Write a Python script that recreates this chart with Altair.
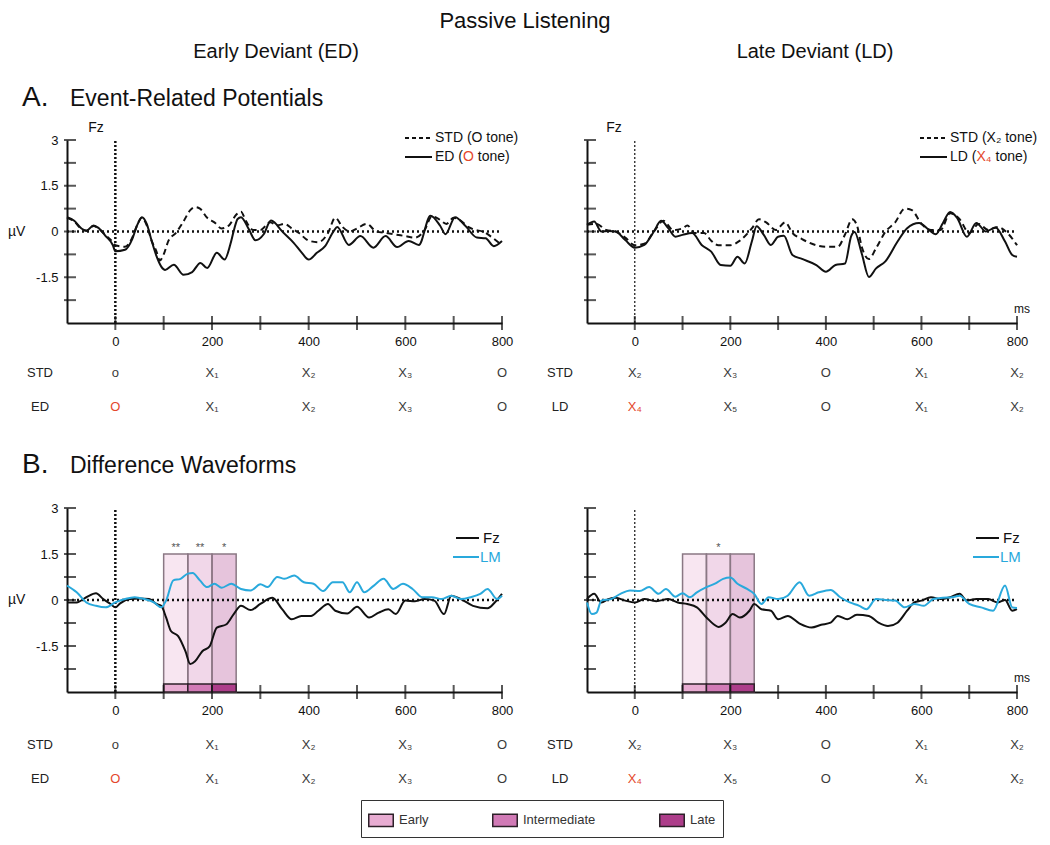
import altair as alt
import pandas as pd

FONT = "Liberation Sans"

# ---------------- data ----------------
tone_times = [0, 200, 400, 600, 800]
ed_std_tones = ["o", "X₁", "X₂", "X₃", "O"]
ed_dev_tones = ["O", "X₁", "X₂", "X₃", "O"]
ld_std_tones = ["X₂", "X₃", "O", "X₁", "X₂"]
ld_dev_tones = ["X₄", "X₅", "O", "X₁", "X₂"]

windows = ["Early", "Intermediate", "Late"]
win_start = [100, 150, 200]
win_end = [150, 200, 250]
win_colors = ["#e8acd2", "#d17ab6", "#ad3d8a"]
sig_ed = ["**", "**", "*"]
sig_ld = ["", "*", ""]

x_tick_labels = [0, 200, 400, 600, 800]
y_tick_labels = [3, 1.5, 0, -1.5]
x_ticks = [0, 100, 200, 300, 400, 500, 600, 700, 800]
y_ticks = [3, 2.25, 1.5, 0.75, 0, -0.75, -1.5, -2.25]

# A. ERPs, Early Deviant block (time ms, uV)
erp_ed_dev = [(-100,0.47),(-85,0.35),(-70,0.1),(-60,0.02),(-45,0.2),(-35,0.12),(-20,-0.15),(-5,-0.45),(0,-0.65),(20,-0.6),(35,-0.25),(45,0.2),(55,0.47),(65,0.25),(75,-0.3),(85,-0.8),(95,-1.15),(103,-1.26),(121,-1.09),(141,-1.42),(159,-1.33),(176,-1.03),(190,-1.2),(210,-0.7),(226,-0.92),(238,-0.42),(245,0.02),(253,0.41),(260,0.47),(276,0.08),(290,-0.29),(307,-0.09),(322,0.36),(334,0.22),(341,0.08),(369,-0.37),(386,-0.7),(400,-0.92),(417,-0.7),(434,-0.48),(452,0.02),(459,0.15),(483,-0.44),(507,-0.15),(534,-0.53),(559,-0.15),(583,-0.51),(607,-0.31),(628,-0.44),(652,0.52),(672,0.19),(683,-0.09),(703,0.47),(724,0.19),(748,-0.2),(766,-0.22),(783,-0.48),(800,-0.31)]
erp_ed_std = [(-100,0.45),(-85,0.33),(-70,0.08),(-60,0.03),(-45,0.18),(-35,0.1),(-20,-0.12),(-5,-0.35),(0,-0.45),(20,-0.5),(35,-0.2),(45,0.2),(55,0.45),(65,0.2),(75,-0.3),(85,-0.65),(92,-0.95),(100,-0.75),(110,-0.3),(125,-0.05),(140,0.3),(155,0.7),(165,0.8),(175,0.75),(190,0.45),(205,0.3),(220,0.1),(235,0.2),(250,0.55),(260,0.65),(270,0.35),(285,0.05),(300,0.05),(320,0.3),(335,0.2),(350,0.25),(365,0.1),(380,-0.05),(400,-0.3),(420,-0.35),(440,-0.05),(455,0.45),(470,0.15),(485,0.0),(500,0.1),(520,0.25),(540,0.0),(560,-0.05),(580,-0.1),(600,-0.15),(620,-0.2),(640,0.05),(655,0.5),(670,0.4),(685,0.25),(700,0.45),(715,0.35),(730,0.15),(745,0.05),(760,0.0),(780,-0.2),(800,-0.45)]

# A. ERPs, Late Deviant block
erp_ld_dev = [(-100,0.22),(-85,0.33),(-70,0.0),(-55,0.02),(-40,0.0),(-20,-0.28),(0,-0.53),(20,-0.44),(40,0.0),(55,0.35),(70,0.11),(85,-0.17),(100,-0.11),(120,-0.05),(140,-0.44),(160,-0.66),(180,-1.1),(200,-1.12),(215,-0.83),(230,-1.05),(245,-0.33),(255,0.17),(270,-0.11),(285,-0.44),(300,-0.17),(312,-0.14),(330,-0.77),(350,-0.9),(380,-1.1),(400,-1.32),(420,-1.1),(440,-1.05),(453,-0.15),(460,-0.02),(475,-0.72),(490,-1.49),(505,-1.21),(525,-0.97),(550,-0.33),(570,0.11),(595,0.28),(615,0.06),(630,-0.09),(645,0.28),(660,0.64),(675,0.44),(695,-0.17),(715,0.28),(735,0.0),(755,0.13),(775,-0.33),(790,-0.77),(800,-0.83)]
erp_ld_std = [(-100,0.22),(-80,0.25),(-60,0.05),(-40,0.0),(-20,-0.2),(0,-0.45),(20,-0.4),(40,0.0),(60,0.35),(80,0.05),(100,0.1),(110,0.2),(125,-0.05),(145,-0.05),(160,-0.3),(175,-0.45),(200,-0.45),(220,-0.3),(245,0.1),(260,0.4),(275,0.3),(295,0.05),(315,0.3),(330,-0.05),(350,-0.25),(380,-0.45),(400,-0.5),(425,-0.5),(440,-0.1),(455,0.4),(465,0.2),(475,-0.5),(490,-0.9),(505,-0.55),(525,0.0),(545,0.3),(565,0.75),(580,0.7),(600,0.25),(620,0.05),(640,0.05),(660,0.6),(680,0.4),(700,-0.05),(720,0.25),(740,0.05),(760,0.15),(780,-0.05),(800,-0.45)]

# B. Difference waveforms, Early Deviant
diff_ed_fz = [(-100,-0.08),(-80,-0.08),(-60,0.09),(-40,0.22),(-25,0.03),(-10,-0.13),(0,-0.24),(10,-0.11),(30,0.03),(50,0.05),(70,0.03),(85,-0.13),(95,-0.19),(105,-0.57),(115,-1.01),(130,-1.18),(145,-1.67),(155,-2.09),(165,-2.0),(180,-1.67),(195,-1.51),(210,-0.9),(230,-0.79),(245,-0.46),(260,-0.19),(280,-0.33),(300,-0.13),(325,0.07),(345,-0.3),(365,-0.63),(385,-0.52),(405,-0.52),(420,-0.35),(440,-0.13),(455,-0.35),(480,-0.44),(500,-0.22),(525,-0.57),(545,-0.41),(565,-0.3),(580,-0.46),(600,-0.02),(620,-0.04),(640,0.03),(660,-0.02),(680,-0.46),(695,0.14),(715,0.03),(740,-0.19),(770,-0.27),(785,-0.08),(800,0.2)]
diff_ed_lm = [(-100,0.47),(-80,0.25),(-60,-0.08),(-40,-0.19),(-20,-0.24),(0,-0.08),(20,0.03),(40,0.09),(60,0.03),(80,-0.08),(95,-0.24),(105,-0.02),(120,0.64),(135,0.69),(150,0.86),(160,0.88),(175,0.64),(190,0.42),(205,0.53),(220,0.4),(240,0.53),(260,0.36),(280,0.31),(300,0.51),(315,0.42),(335,0.75),(350,0.69),(370,0.8),(390,0.58),(410,0.53),(430,0.29),(450,0.58),(470,0.58),(485,0.25),(500,0.58),(515,0.25),(535,0.47),(555,0.69),(575,0.36),(595,0.53),(615,0.36),(635,0.09),(655,0.09),(675,0.03),(695,0.14),(715,0.03),(735,0.09),(755,0.2),(770,0.36),(790,0.03),(800,0.14)]

# B. Difference waveforms, Late Deviant
diff_ld_fz = [(-100,0.03),(-85,0.2),(-70,-0.08),(-55,0.03),(-40,0.07),(-20,-0.02),(0,-0.08),(20,0.03),(45,-0.04),(70,0.03),(90,-0.08),(110,-0.13),(130,-0.24),(150,-0.57),(165,-0.79),(175,-0.88),(190,-0.74),(205,-0.46),(220,-0.57),(240,-0.35),(250,-0.13),(265,-0.3),(285,-0.35),(300,-0.63),(320,-0.52),(345,-0.77),(370,-0.9),(390,-0.81),(410,-0.74),(425,-0.52),(445,-0.63),(465,-0.48),(490,-0.52),(510,-0.74),(530,-0.85),(550,-0.74),(570,-0.35),(585,-0.08),(600,-0.02),(620,0.09),(640,0.03),(660,0.09),(680,0.2),(695,-0.02),(715,0.03),(740,0.03),(760,-0.08),(775,0.0),(790,-0.35),(800,-0.3)]
diff_ld_lm = [(-100,-0.08),(-90,-0.46),(-80,-0.41),(-70,-0.02),(-50,0.03),(-30,0.2),(-10,0.31),(10,0.29),(30,0.42),(50,0.2),(65,0.36),(85,0.11),(100,0.22),(115,0.09),(130,0.25),(150,0.42),(170,0.55),(185,0.69),(200,0.73),(215,0.53),(235,0.36),(250,0.2),(265,-0.13),(280,0.09),(300,0.03),(320,0.14),(345,0.58),(365,0.14),(385,0.25),(410,0.33),(430,0.09),(450,-0.08),(470,-0.19),(485,-0.3),(505,0.03),(525,0.0),(545,-0.02),(565,-0.24),(585,-0.13),(605,-0.19),(625,0.03),(645,0.07),(665,0.09),(680,0.14),(700,-0.13),(725,-0.24),(750,-0.35),(775,0.47),(790,-0.24),(800,-0.26)]

# ---------------- helpers ----------------
BLACK = "#111111"
CYAN = "#29a9dc"
RED = "#e4472c"
XS = alt.Scale(domain=[-100, 800], nice=False, zero=False)
YS = alt.Scale(domain=[-3, 3], nice=False, zero=False)

AW = {' ': 278, '(': 333, ')': 333, 'O': 778, 'X': 667, 'S': 667, 'T': 611, 'D': 722,
      'E': 667, 'L': 556, 't': 278, 'o': 556, 'n': 556, 'e': 556, '₂': 420, '₄': 420}


def wpx(s, fs):
    return sum(AW.get(c, 556) for c in s) * fs / 1000.0


def xax():
    return alt.Axis(values=x_tick_labels, ticks=False, grid=False, domainWidth=2,
                    domainColor=BLACK, labelPadding=12, labelFontSize=13, labelFont=FONT,
                    labelColor=BLACK, title=None, labelFlush=False, labelOverlap=False)


def yax(show):
    return alt.Axis(values=y_tick_labels, ticks=False, grid=False, domainWidth=2,
                    domainColor=BLACK, labelPadding=9, labelFontSize=13, labelFont=FONT,
                    labelColor=BLACK, title=None, labels=show, labelFlush=False,
                    labelOverlap=False, labelExpr="toString(datum.value)")


def one():
    return alt.Data(values=[{"k": 1}])


def txt(s, x, y, size=13, color=BLACK, align="left", baseline="middle", weight="normal"):
    return alt.Chart(alt.Data(values=[{"s": s}])).mark_text(
        align=align, baseline=baseline, font=FONT, fontSize=size, color=color,
        fontWeight=weight).encode(text="s:N", x=alt.value(x), y=alt.value(y))


def seg(x1, x2, y, color=BLACK, dash=None, width=2):
    kw = dict(color=color, strokeWidth=width)
    if dash:
        kw["strokeDash"] = dash
    return alt.Chart(one()).mark_rule(**kw).encode(
        x=alt.value(x1), x2=alt.value(x2), y=alt.value(y))


def panel(kind, side, series, tones, legend_items, sig):
    left = side == "L"
    W = 435 if left else 430
    H = 183 if kind == "A" else 184
    show = left
    X = lambda f: alt.X(f, type="quantitative", scale=XS, axis=xax())
    Y = lambda f: alt.Y(f, type="quantitative", scale=YS, axis=yax(show))
    XD = lambda v: alt.XDatum(v, type="quantitative", scale=XS, axis=xax())
    YD = lambda v: alt.YDatum(v, type="quantitative", scale=YS, axis=yax(show))
    layers = []

    if kind == "B":
        wdf = pd.DataFrame({"win": windows, "start": win_start, "end": win_end, "sig": sig})
        fill = alt.Fill("win:N", scale=alt.Scale(domain=windows, range=win_colors),
                        legend=(alt.Legend(orient="none", legendX=294, legendY=292,
                                           direction="horizontal", title=None,
                                           symbolType="M-1,-0.5H1V0.5H-1Z", symbolSize=600,
                                           symbolStrokeColor="#2d2029", symbolStrokeWidth=1.5,
                                           symbolOpacity=1, labelFont=FONT, labelFontSize=13,
                                           labelColor="#333333", labelOffset=5,
                                           columnPadding=60, padding=7, strokeColor="#333333")
                                if left else None))
        layers.append(alt.Chart(wdf).mark_rect(stroke="#8a7884", strokeWidth=1.5,
                                               fillOpacity=0.3).encode(
            x=X("start"), x2=alt.X2("end"), y=YD(1.5), y2=alt.Y2Datum(-3), fill=fill))

    # zero line and stimulus onset line
    layers.append(alt.Chart(one()).mark_rule(color=BLACK, strokeWidth=2.5, strokeDash=[2, 3]).encode(
        y=YD(0), x=XD(-100), x2=alt.X2Datum(800)))
    layers.append(alt.Chart(one()).mark_rule(color=BLACK, strokeWidth=2.5 if left else 1.2,
                                             strokeDash=[2, 2]).encode(
        x=XD(0), y=YD(-3), y2=alt.Y2Datum(3)))

    # waveforms
    for pairs, color, dash in series:
        df = pd.DataFrame(pairs, columns=["t", "v"])
        kw = dict(color=color, strokeWidth=2, interpolate="monotone")
        if dash:
            kw["strokeDash"] = dash
        layers.append(alt.Chart(df).mark_line(**kw).encode(x=X("t"), y=Y("v")))

    if kind == "B":
        layers.append(alt.Chart(wdf).mark_rect(stroke="#2d2029", strokeWidth=1.5).encode(
            x=X("start"), x2=alt.X2("end"), y=alt.value(H - 8), y2=alt.value(H), fill=fill))
        layers.append(alt.Chart(wdf).mark_text(font=FONT, fontSize=11, color="#555555",
                                               baseline="bottom", dy=-1).encode(
            x=alt.X("mid:Q", scale=XS, axis=xax()), y=YD(1.5), text="sig:N"
        ).transform_calculate(mid="(datum.start + datum.end) / 2"))

    # crossing ticks
    layers.append(alt.Chart(pd.DataFrame({"v": y_ticks})).mark_tick(
        orient="horizontal", size=12, thickness=2, xOffset=3, color=BLACK).encode(
        y=Y("v"), x=XD(-100)))
    layers.append(alt.Chart(pd.DataFrame({"t": x_ticks})).mark_tick(
        orient="vertical", size=14, thickness=2, color=BLACK).encode(
        x=X("t"), y=YD(-3)))

    # tone sequences below the axis
    r1 = 233 if kind == "A" else 237
    r2 = r1 + 34
    std_lab, dev_lab, std_t, dev_t = tones
    for yy, head, labs in ((r1, "STD", std_t), (r2, dev_lab, dev_t)):
        cols = ["#3a3a3a"] * len(labs)
        if head == dev_lab:
            cols[0] = RED
        tdf = pd.DataFrame({"t": tone_times, "lab": labs, "col": cols})
        layers.append(alt.Chart(tdf).mark_text(font=FONT, fontSize=13, baseline="middle").encode(
            x=X("t"), y=alt.value(yy), text="lab:N", color=alt.Color("col:N", scale=None)))
        layers.append(txt(head, -27, yy, 13, "#222222", align="center"))

    # axis annotations
    if left:
        layers.append(alt.Chart(one()).mark_text(font=FONT, fontSize=14, align="left",
                                                 baseline="middle", color=BLACK, text="µV").encode(
            x=alt.value(-59), y=YD(0)))
    else:
        layers.append(alt.Chart(one()).mark_text(font=FONT, fontSize=12, align="center",
                                                 baseline="middle", color=BLACK, text="ms",
                                                 dx=5, dy=-14).encode(x=XD(800), y=YD(-3)))
    if kind == "A":
        layers.append(txt("Fz", 29 if left else 27, -12, 14, BLACK, align="center"))

    layers.extend(legend_items)
    return alt.layer(*layers).properties(width=W, height=H)


# ---------------- in-panel legends ----------------
FS = 14


def erp_legend(x0, y1, y2, std_txt, dev_parts):
    items = [seg(x0, x0 + 27, y1, dash=[4, 3]), seg(x0, x0 + 27, y2)]
    tx = x0 + 30
    items.append(txt(std_txt, tx, y1, FS))
    a, b, c = dev_parts
    items.append(txt(a, tx, y2, FS))
    items.append(txt(b, tx + wpx(a, FS), y2, FS, RED))
    items.append(txt(c.lstrip(), tx + wpx(a, FS) + wpx(b, FS) + wpx(" ", FS), y2, FS))
    return items


def diff_legend(x0):
    return [seg(x0 + 3, x0 + 26, 30), txt("Fz", x0 + 30, 30, 15, BLACK),
            seg(x0, x0 + 26, 49, CYAN), txt("LM", x0 + 27, 49, 15, CYAN)]


A_L = panel("A", "L",
            [(erp_ed_std, BLACK, [6, 4]), (erp_ed_dev, BLACK, None)],
            ("STD", "ED", ed_std_tones, ed_dev_tones),
            erp_legend(338, -2, 17, "STD (O tone)", ("ED (", "O", " tone)")) + [
                seg(0, 1, -131.5, "#ffffff", width=1),
                txt("Passive Listening", 458, -129, 22, BLACK, align="center", baseline="top"),
                txt("Early Deviant (ED)", 209, -88, 20, BLACK, align="center"),
                txt("A.", -45, -42, 28, BLACK),
                txt("Event-Related Potentials", 3, -41, 23, BLACK)],
            None)
A_R = panel("A", "R",
            [(erp_ld_std, BLACK, [6, 4]), (erp_ld_dev, BLACK, None)],
            ("STD", "LD", ld_std_tones, ld_dev_tones),
            erp_legend(333, -2, 17, "STD (X₂ tone)", ("LD (", "X₄", " tone)")) + [
                txt("Late Deviant (LD)", 228, -88, 20, BLACK, align="center")],
            None)
B_L = panel("B", "L",
            [(diff_ed_fz, BLACK, None), (diff_ed_lm, CYAN, None)],
            ("STD", "ED", ed_std_tones, ed_dev_tones),
            diff_legend(386) + [txt("B.", -45, -43, 28, BLACK),
                                txt("Difference Waveforms", 3, -42, 23, BLACK)],
            sig_ed)
B_R = panel("B", "R",
            [(diff_ld_fz, BLACK, None), (diff_ld_lm, CYAN, None)],
            ("STD", "LD", ld_std_tones, ld_dev_tones),
            diff_legend(386),
            sig_ld)

chart = alt.concat(A_L, A_R, B_L, B_R, columns=2,
                   spacing={"row": 185, "column": 85}, bounds="flush").resolve_scale(
    fill="independent", x="independent", y="independent"
).properties(padding=0).configure_view(strokeWidth=0)

chart.save("out.html", embed_options={"renderer": "svg", "actions": False})
